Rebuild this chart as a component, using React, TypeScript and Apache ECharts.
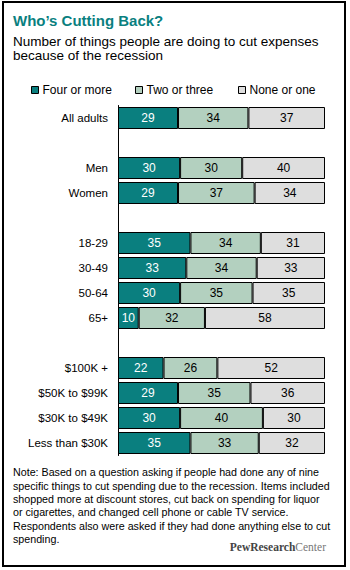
import React, { useEffect, useRef } from "react";
import * as echarts from "echarts";

const categories = [
  "All adults", "", "Men", "Women", " ", "18-29", "30-49", "50-64", "65+", "  ",
  "$100K +", "$50K to $99K", "$30K to $49K", "Less than $30K",
];
const fourOrMore = [29, null, 30, 29, null, 35, 33, 30, 10, null, 22, 29, 30, 35];
const twoOrThree = [34, null, 30, 37, null, 34, 34, 35, 32, null, 26, 35, 40, 33];
const noneOrOne = [37, null, 40, 34, null, 31, 33, 35, 58, null, 52, 36, 30, 32];
const seriesNames = ["Four or more", "Two or three", "None or one"];
const xTicks = [0, 100];

const TEAL = "#0a7f7f";
const GREEN = "#b3d0bf";
const GRAY = "#dedede";
const SANS = "'Liberation Sans', Arial, sans-serif";

const noteText =
  "Note: Based on a question asking if people had done any of nine\n" +
  "specific things to cut spending due to the recession. Items included\n" +
  "shopped more at discount stores, cut back on spending for liquor\n" +
  "or cigarettes, and changed cell phone or cable TV service.\n" +
  "Respondents also were asked if they had done anything else to cut\n" +
  "spending.";

export default function App() {
  const ref = useRef<HTMLDivElement>(null);
  useEffect(() => {
    document.body.style.margin = "0";
    if (!ref.current) return;
    const chart = echarts.init(ref.current, null, { renderer: "svg" });
    const mkSeries = (name: string, data: (number | null)[], color: string, labelColor: string) => ({
      name,
      type: "bar",
      stack: "total",
      data,
      barWidth: 22,
      itemStyle: { color, borderColor: "#000", borderWidth: 1 },
      label: {
        show: true,
        position: "inside",
        color: labelColor,
        fontFamily: SANS,
        fontSize: 12,
        formatter: (p: any) => (p.value == null ? "" : String(p.value)),
      },
      emphasis: { disabled: true },
    });
    const legendBase = {
      top: 84,
      itemWidth: 7,
      itemHeight: 7,
      itemGap: 5,
      icon: "rect",
      itemStyle: { borderColor: "#000", borderWidth: 1 },
      textStyle: { fontFamily: SANS, fontSize: 12, color: "#000", padding: [0, 0, 0, -1] },
      padding: 0,
      selectedMode: false,
    };
    chart.setOption({
      animation: false,
      backgroundColor: "#fff",
      legend: [
        { ...legendBase, left: 31, data: [seriesNames[0]] },
        { ...legendBase, left: 135, data: [seriesNames[1]] },
        { ...legendBase, left: 238, data: [seriesNames[2]] },
      ],
      grid: { left: 118, right: 25, top: 105.5, height: 350, containLabel: false },
      xAxis: {
        type: "value",
        min: xTicks[0],
        max: xTicks[1],
        show: false,
      },
      yAxis: {
        type: "category",
        data: categories,
        inverse: true,
        axisLine: { show: true, lineStyle: { color: "#000", width: 1 } },
        axisTick: { show: false },
        axisLabel: { color: "#000", fontFamily: SANS, fontSize: 11.5, margin: 10 },
        splitLine: { show: false },
      },
      series: [
        mkSeries(seriesNames[0], fourOrMore, TEAL, "#fff"),
        mkSeries(seriesNames[1], twoOrThree, GREEN, "#000"),
        mkSeries(seriesNames[2], noneOrOne, GRAY, "#000"),
      ],
      graphic: [
        {
          type: "rect",
          shape: { x: 3, y: 2, width: 342, height: 564 },
          style: { fill: "none", stroke: "#000", lineWidth: 2 },
          silent: true,
        },
        {
          type: "text",
          x: 13,
          y: 20,
          style: {
            text: "Who\u2019s Cutting Back?",
            fill: TEAL,
            fontFamily: SANS,
            fontWeight: "bold",
            fontSize: 15,
            verticalAlign: "middle",
          },
        },
        {
          type: "text",
          x: 13,
          y: 34.5,
          style: {
            text: "Number of things people are doing to cut expenses\nbecause of the recession",
            fill: "#000",
            fontFamily: SANS,
            fontSize: 13.5,
            lineHeight: 14,
            verticalAlign: "top",
          },
        },
        {
          type: "text",
          x: 13,
          y: 465.5,
          style: {
            text: noteText,
            fill: "#000",
            fontFamily: SANS,
            fontSize: 10.7,
            lineHeight: 13.4,
            verticalAlign: "top",
          },
        },
        {
          type: "text",
          x: 326,
          y: 547,
          style: {
            text: "{a|PewResearch}{b|Center}",
            align: "right",
            verticalAlign: "middle",
            rich: {
              a: { fontFamily: "'Liberation Serif', serif", fontSize: 11.5, fontWeight: "bold", fill: "#444" },
              b: { fontFamily: "'Liberation Serif', serif", fontSize: 11.5, fill: "#777" },
            },
          },
        },
      ],
    });
    return () => chart.dispose();
  }, []);
  return <div ref={ref} style={{ width: 350, height: 570 }} />;
}
